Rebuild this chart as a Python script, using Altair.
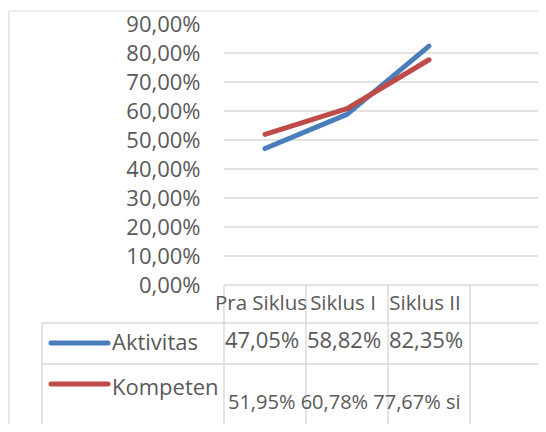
import altair as alt
import pandas as pd

categories = ["Pra Siklus", "Siklus I", "Siklus II"]
aktivitas = [0.4705, 0.5882, 0.8235]
kompeten = [0.5195, 0.6078, 0.7767]
series_names = ["Aktivitas", "Kompeten"]
series_colors = ["#4a7ebb", "#be4b48"]
kompeten_tail = " si"
y_ticks = [0, 0.1, 0.2, 0.3, 0.4, 0.5, 0.6, 0.7, 0.8, 0.9]
grid_values = [0, 0.1, 0.2, 0.3, 0.4, 0.5, 0.6, 0.7, 0.8]

FONT = "Open Sans"
FS = 22
TXT = "#595959"
GRID = "#d9d9d9"

cols = categories + [" "]
xscale = alt.Scale(type="point", domain=cols, range=[0, 328], padding=0.5)
yscale = alt.Scale(domain=[0, 0.9], range=[261, 0])

yaxis = alt.Axis(
    values=y_ticks,
    labelExpr="replace(format(datum.value, '.2%'), '.', ',')",
    grid=False,
    domain=False,
    ticks=False,
    labelPadding=24,
    labelFont=FONT,
    labelFontSize=FS,
    labelColor=TXT,
    title=None,
)


def pct(v):
    return f"{v * 100:.2f}%".replace(".", ",")


long = pd.DataFrame(
    [{"cat": c, "series": "Aktivitas", "value": v} for c, v in zip(categories, aktivitas)]
    + [{"cat": c, "series": "Kompeten", "value": v} for c, v in zip(categories, kompeten)]
)
one = pd.DataFrame({"a": [0]})

grid = alt.Chart(pd.DataFrame({"value": grid_values})).mark_rule(
    color=GRID, strokeWidth=1.4
).encode(y=alt.Y("value:Q", scale=yscale, axis=yaxis))

border_top = alt.Chart(one).mark_rule(color=GRID, strokeWidth=1.2, clip=False).encode(
    x=alt.value(-215), x2=alt.value(314), y=alt.value(-13)
)
border_left = alt.Chart(one).mark_rule(color=GRID, strokeWidth=1.2, clip=False).encode(
    x=alt.value(-215), y=alt.value(-13), y2=alt.value(400)
)

vlines = alt.Chart(pd.DataFrame({"cat": cols})).mark_rule(
    color=GRID, strokeWidth=1.4, xOffset=-41, clip=False
).encode(
    x=alt.X("cat:N", scale=xscale, axis=None),
    y=alt.value(261),
    y2=alt.value(400),
)
hline1 = alt.Chart(one).mark_rule(color=GRID, strokeWidth=1.4, clip=False).encode(
    x=alt.value(-182), x2=alt.value(314), y=alt.value(299)
)
hline2 = alt.Chart(one).mark_rule(color=GRID, strokeWidth=1.4, clip=False).encode(
    x=alt.value(-182), x2=alt.value(314), y=alt.value(340)
)
table_left = alt.Chart(one).mark_rule(color=GRID, strokeWidth=1.4, clip=False).encode(
    x=alt.value(-182), y=alt.value(299), y2=alt.value(400)
)

lines = alt.Chart(long).mark_line(strokeWidth=5, strokeCap="round", strokeJoin="round").encode(
    x=alt.X("cat:N", scale=xscale, axis=None),
    y=alt.Y("value:Q", scale=yscale, axis=yaxis),
    color=alt.Color(
        "series:N", scale=alt.Scale(domain=series_names, range=series_colors), legend=None
    ),
)

header = alt.Chart(pd.DataFrame({"cat": categories})).mark_text(
    font=FONT, fontSize=20.5, color=TXT, baseline="middle", align="center", dx=-4
).encode(x=alt.X("cat:N", scale=xscale, axis=None), y=alt.value(280), text="cat:N")

row1 = alt.Chart(
    pd.DataFrame({"cat": categories, "label": [pct(v) for v in aktivitas]})
).mark_text(font=FONT, fontSize=FS, color=TXT, baseline="middle", align="center", dx=-3).encode(
    x=alt.X("cat:N", scale=xscale, axis=None), y=alt.value(317), text="label:N"
)
row2 = alt.Chart(
    pd.DataFrame(
        {"cat": [categories[0]], "label": [" ".join(pct(v) for v in kompeten) + kompeten_tail]}
    )
).mark_text(font=FONT, fontSize=20, color=TXT, baseline="middle", align="left", dx=-37).encode(
    x=alt.X("cat:N", scale=xscale, axis=None), y=alt.value(379), text="label:N"
)

leg1 = alt.Chart(pd.DataFrame({"series": ["Aktivitas"]})).mark_rule(
    strokeWidth=5, strokeCap="round", clip=False
).encode(
    x=alt.value(-173), x2=alt.value(-116), y=alt.value(319),
    color=alt.Color("series:N", scale=alt.Scale(domain=series_names, range=series_colors), legend=None),
)
leg2 = alt.Chart(pd.DataFrame({"series": ["Kompeten"]})).mark_rule(
    strokeWidth=5, strokeCap="round", clip=False
).encode(
    x=alt.value(-173), x2=alt.value(-116), y=alt.value(360),
    color=alt.Color("series:N", scale=alt.Scale(domain=series_names, range=series_colors), legend=None),
)
legt1 = alt.Chart(pd.DataFrame({"series": ["Aktivitas"]})).mark_text(
    font=FONT, fontSize=FS, color=TXT, align="left", baseline="middle", clip=False
).encode(x=alt.value(-112), y=alt.value(319), text="series:N")
legt2 = alt.Chart(pd.DataFrame({"series": ["Kompeten"]})).mark_text(
    font=FONT, fontSize=FS, color=TXT, align="left", baseline="middle", clip=False
).encode(x=alt.value(-112), y=alt.value(364), text="series:N")

chart = alt.layer(
    grid, border_top, border_left, vlines, hline1, hline2, table_left,
    lines, header, row1, row2, leg1, leg2, legt1, legt2,
).properties(
    width=314,
    height=400,
    autosize=alt.AutoSizeParams(type="none"),
    padding={"left": 216, "top": 16, "right": 0, "bottom": 0},
    background="white",
).configure_view(stroke=None)

chart.save("out.html", embed_options={"renderer": "svg", "actions": False})
